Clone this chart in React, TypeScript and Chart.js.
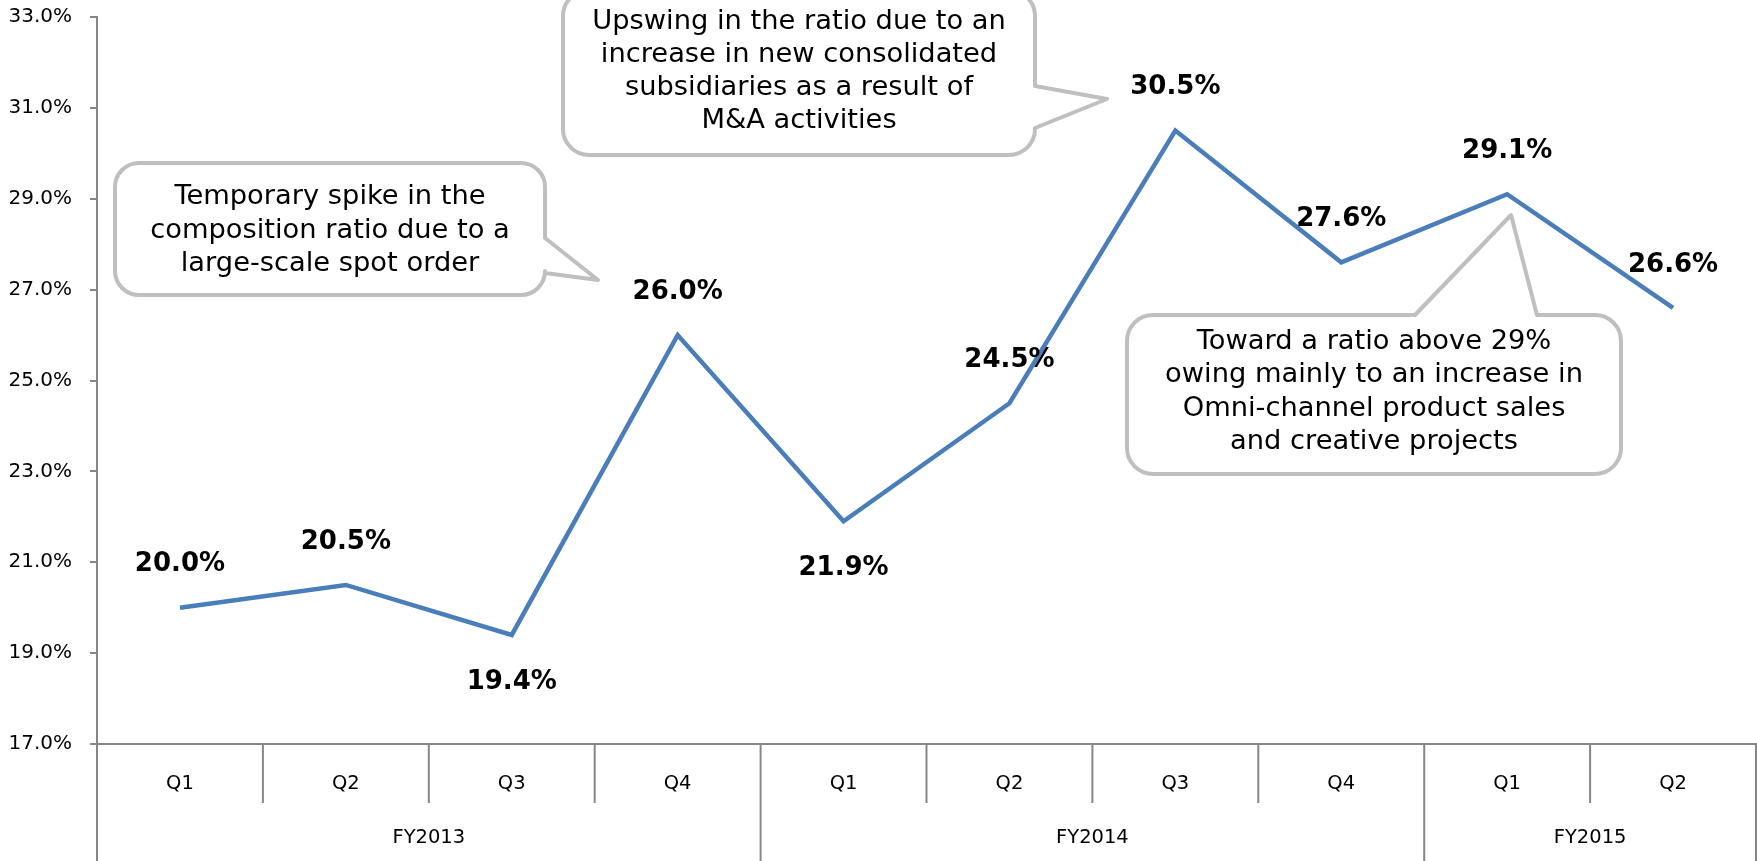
import React, { useEffect, useRef } from 'react';
import { Chart, registerables } from 'chart.js';

Chart.register(...registerables);

// ---- data ----
const quarters = ['Q1', 'Q2', 'Q3', 'Q4', 'Q1', 'Q2', 'Q3', 'Q4', 'Q1', 'Q2'];
const ratios = [20.0, 20.5, 19.4, 26.0, 21.9, 24.5, 30.5, 27.6, 29.1, 26.6];
const fiscalYears = ['FY2013', 'FY2014', 'FY2015'];
const quartersPerYear = [4, 4, 2];
const labelPlacement = ['above', 'above', 'below', 'above', 'below', 'above', 'above', 'above', 'above', 'above'];
const yMin = 17;
const yMax = 33;
const yStep = 2;

const callout1Lines = ['Temporary spike in the', 'composition ratio due to a', 'large-scale spot order'];
const callout2Lines = ['Upswing in the ratio due to an', 'increase in new consolidated', 'subsidiaries as a result of', 'M&A activities'];
const callout3Lines = ['Toward a ratio above 29%', 'owing mainly to an increase in', 'Omni-channel product sales', 'and creative projects'];

// ---- style ----
const FONT = '"DejaVu Sans", "Noto Sans", sans-serif';
const AXIS_GRAY = '#868686';
const LINE_BLUE = '#4A7EBB';
const CALLOUT_GRAY = '#BFBFBF';

type Callout = {
  lines: string[];
  x: number; y: number; w: number; h: number; r: number;
  textX: number; textY: number; pitch: number;
  tail: { side: 'right' | 'top'; a: number; b: number; tipX: number; tipY: number };
};

const callouts: Callout[] = [
  {
    lines: callout1Lines, x: 115, y: 163, w: 430, h: 132, r: 24,
    textX: 330, textY: 230.5, pitch: 33.3,
    tail: { side: 'right', a: 238, b: 273, tipX: 598, tipY: 280 },
  },
  {
    lines: callout2Lines, x: 563, y: -10, w: 472, h: 165, r: 26,
    textX: 799, textY: 71, pitch: 33,
    tail: { side: 'right', a: 86, b: 128, tipX: 1107, tipY: 99 },
  },
  {
    lines: callout3Lines, x: 1127, y: 315, w: 494, h: 159, r: 26,
    textX: 1374, textY: 392, pitch: 33.3,
    tail: { side: 'top', a: 1415, b: 1537, tipX: 1511, tipY: 215 },
  },
];

function drawCallout(ctx: CanvasRenderingContext2D, c: Callout) {
  const { x, y, w, h, r, tail } = c;
  ctx.save();
  ctx.beginPath();
  ctx.moveTo(x + r, y);
  if (tail.side === 'top') {
    ctx.lineTo(tail.a, y);
    ctx.lineTo(tail.tipX, tail.tipY);
    ctx.lineTo(tail.b, y);
  }
  ctx.lineTo(x + w - r, y);
  ctx.arcTo(x + w, y, x + w, y + r, r);
  if (tail.side === 'right') {
    ctx.lineTo(x + w, tail.a);
    ctx.lineTo(tail.tipX, tail.tipY);
    ctx.lineTo(x + w, tail.b);
  }
  ctx.lineTo(x + w, y + h - r);
  ctx.arcTo(x + w, y + h, x + w - r, y + h, r);
  ctx.lineTo(x + r, y + h);
  ctx.arcTo(x, y + h, x, y + h - r, r);
  ctx.lineTo(x, y + r);
  ctx.arcTo(x, y, x + r, y, r);
  ctx.closePath();
  ctx.fillStyle = '#FFFFFF';
  ctx.fill();
  ctx.lineWidth = 4;
  ctx.strokeStyle = CALLOUT_GRAY;
  ctx.lineJoin = 'round';
  ctx.stroke();

  ctx.fillStyle = '#000000';
  ctx.font = `27.3px ${FONT}`;
  ctx.textAlign = 'center';
  ctx.textBaseline = 'middle';
  const n = c.lines.length;
  c.lines.forEach((line, i) => {
    const ly = c.textY + (i - (n - 1) / 2) * c.pitch;
    ctx.fillText(line, c.textX, ly);
  });
  ctx.restore();
}

const groupAxisPlugin = {
  id: 'groupAxis',
  afterDraw(chart: any) {
    const ctx: CanvasRenderingContext2D = chart.ctx;
    const xs = chart.scales.x;
    const area = chart.chartArea;
    const half = (xs.getPixelForValue(1) - xs.getPixelForValue(0)) / 2;
    const groupStarts = new Set<number>();
    let acc = 0;
    groupStarts.add(0);
    quartersPerYear.forEach((n) => { acc += n; groupStarts.add(acc); });
    ctx.save();
    ctx.strokeStyle = AXIS_GRAY;
    ctx.lineWidth = 2;
    for (let k = 0; k <= quarters.length; k++) {
      const px = k < quarters.length ? xs.getPixelForValue(k) - half : xs.getPixelForValue(quarters.length - 1) + half;
      const bottom = groupStarts.has(k) ? chart.height : area.bottom + 59;
      ctx.beginPath();
      ctx.moveTo(px, area.bottom);
      ctx.lineTo(px, bottom);
      ctx.stroke();
    }
    ctx.fillStyle = '#000000';
    ctx.font = `19.5px ${FONT}`;
    ctx.textAlign = 'center';
    ctx.textBaseline = 'middle';
    let start = 0;
    fiscalYears.forEach((fy, i) => {
      const end = start + quartersPerYear[i] - 1;
      const cx = (xs.getPixelForValue(start) + xs.getPixelForValue(end)) / 2;
      ctx.fillText(fy, cx, area.bottom + 94);
      start = end + 1;
    });
    ctx.restore();
  },
};

const valueLabelPlugin = {
  id: 'valueLabels',
  afterDatasetsDraw(chart: any) {
    const ctx: CanvasRenderingContext2D = chart.ctx;
    const meta = chart.getDatasetMeta(0);
    ctx.save();
    ctx.fillStyle = '#000000';
    ctx.font = `bold 26px ${FONT}`;
    ctx.textAlign = 'center';
    ctx.textBaseline = 'middle';
    meta.data.forEach((pt: any, i: number) => {
      const dy = labelPlacement[i] === 'above' ? -43 : 47;
      ctx.fillText(ratios[i].toFixed(1) + '%', pt.x, pt.y + dy);
    });
    callouts.forEach((c) => drawCallout(ctx, c));
    ctx.restore();
  },
};

export default function App() {
  const canvasRef = useRef<HTMLCanvasElement | null>(null);

  useEffect(() => {
    document.body.style.margin = '0';
    const canvas = canvasRef.current;
    if (!canvas) return;
    Chart.defaults.font.family = FONT;
    const chart = new Chart(canvas, {
      type: 'line',
      data: {
        labels: quarters,
        datasets: [
          {
            data: ratios,
            borderColor: LINE_BLUE,
            borderWidth: 4.5,
            pointRadius: 0,
            tension: 0,
            fill: false,
          },
        ],
      },
      options: {
        animation: false,
        responsive: false,
        maintainAspectRatio: false,
        layout: { padding: { top: 17, right: 1, left: 0, bottom: 0 } },
        plugins: {
          legend: { display: false },
          tooltip: { enabled: false },
          title: { display: false },
        },
        scales: {
          x: {
            type: 'category',
            offset: true,
            grid: { display: false, drawTicks: false, drawOnChartArea: false },
            border: { display: true, color: AXIS_GRAY, width: 2 },
            ticks: {
              color: '#000000',
              font: { size: 19.5, family: FONT },
              padding: 28,
              maxRotation: 0,
              autoSkip: false,
            },
            afterFit: (s: any) => { s.height = 117; },
          },
          y: {
            min: yMin,
            max: yMax,
            grid: { drawOnChartArea: false, drawTicks: true, tickLength: 7, color: AXIS_GRAY, lineWidth: 2 },
            border: { display: true, color: AXIS_GRAY, width: 2 },
            ticks: {
              stepSize: yStep,
              color: '#000000',
              font: { size: 20, family: FONT },
              padding: 18,
              callback: (v: any) => Number(v).toFixed(1) + '%',
            },
            afterFit: (s: any) => {
              s.width = 97;
              s.paddingTop = 0;
              s.paddingBottom = 0;
            },
          },
        },
      },
      plugins: [groupAxisPlugin, valueLabelPlugin],
    });
    return () => chart.destroy();
  }, []);

  return (
    <div style={{ position: 'fixed', left: 0, top: 0, width: 1757, height: 861, background: '#fff' }}>
      <canvas ref={canvasRef} width={1757} height={861} style={{ width: 1757, height: 861, display: 'block' }} />
    </div>
  );
}
